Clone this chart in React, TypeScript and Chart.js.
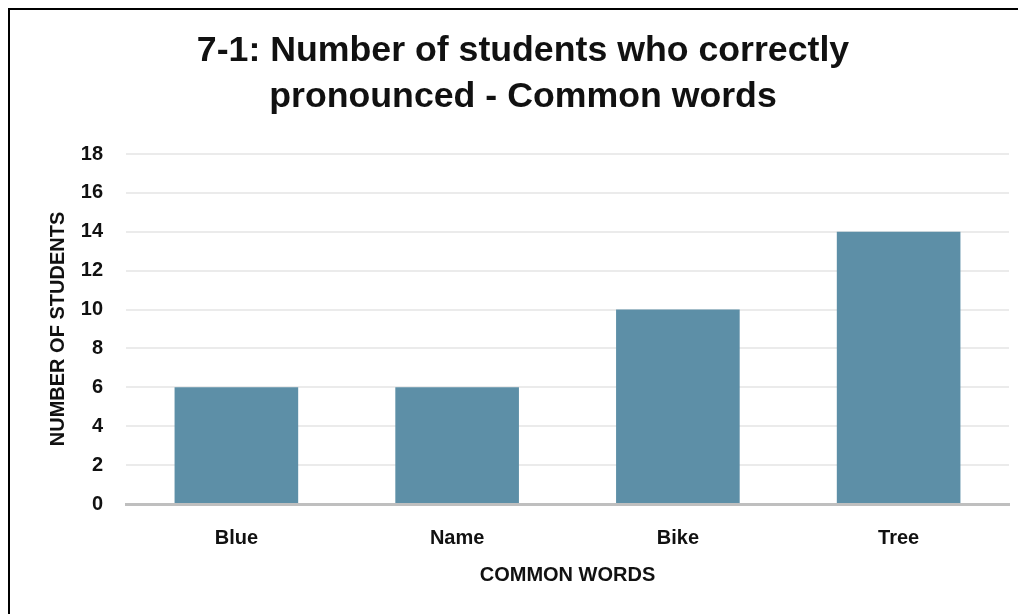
import React, { useEffect, useRef } from "react";
import { Chart, registerables } from "chart.js";

Chart.register(...registerables);

const categories = ["Blue", "Name", "Bike", "Tree"];
const studentCounts = [6, 6, 10, 14];
const titleLines = ["7-1: Number of students who correctly", "pronounced - Common words"];
const yAxisTitle = "NUMBER OF STUDENTS";
const xAxisTitle = "COMMON WORDS";

export default function App() {
  const ref = useRef<HTMLCanvasElement | null>(null);

  useEffect(() => {
    if (!ref.current) return;
    const chart = new Chart(ref.current, {
      type: "bar",
      data: {
        labels: categories,
        datasets: [
          {
            data: studentCounts,
            backgroundColor: "rgb(93,143,167)",
            borderWidth: 0,
            categoryPercentage: 0.56,
            barPercentage: 1,
          },
        ],
      },
      options: {
        animation: false,
        responsive: false,
        maintainAspectRatio: false,
        layout: { padding: { left: 27, right: 17, top: 0, bottom: 0 } },
        plugins: {
          legend: { display: false },
          tooltip: { enabled: false },
          title: {
            display: true,
            text: titleLines,
            color: "#111",
            font: { family: "'Liberation Sans', Arial, sans-serif", size: 35.7, weight: "bold", lineHeight: 46 / 35.7 },
            padding: { top: 18.5, bottom: 33.5 },
          },
        },
        scales: {
          x: {
            grid: { display: false },
            border: { display: true, color: "#bfbfbf", width: 3 },
            ticks: {
              color: "#111",
              padding: 14,
              font: { family: "'Liberation Sans', Arial, sans-serif", size: 20, weight: "bold" },
            },
            title: {
              display: true,
              text: xAxisTitle,
              color: "#111",
              font: { family: "'Liberation Sans', Arial, sans-serif", size: 20, weight: "bold" },
              padding: { top: 0, bottom: 43 },
            },
            afterFit: (scale: any) => {
              scale.height = 126;
            },
          },
          y: {
            min: 0,
            max: 18,
            grid: { color: "#ebebeb", lineWidth: 2, drawTicks: false },
            border: { display: false },
            ticks: {
              stepSize: 2,
              color: "#111",
              padding: 23,
              font: { family: "'Liberation Sans', Arial, sans-serif", size: 20, weight: "bold" },
            },
            title: {
              display: true,
              text: yAxisTitle,
              color: "#111",
              font: { family: "'Liberation Sans', Arial, sans-serif", size: 20, weight: "bold" },
              padding: { top: 9, bottom: 0 },
            },
            afterFit: (scale: any) => {
              scale.width = 89;
            },
          },
        },
      },
    });
    return () => chart.destroy();
  }, []);

  return (
    <div style={{ width: 1018, height: 606, overflow: "hidden" }}>
      <div style={{ width: 1030, height: 640, border: "2px solid #000", background: "#fff" }}>
        <canvas ref={ref} width={1016} height={620} style={{ display: "block" }} />
      </div>
    </div>
  );
}
